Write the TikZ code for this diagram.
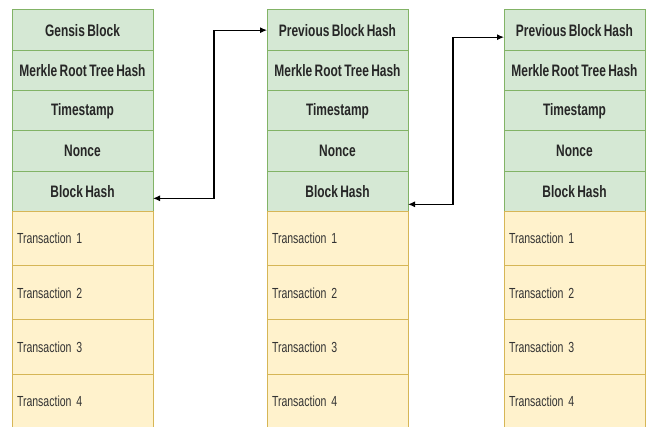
\documentclass[tikz,border=0pt]{standalone}
\usepackage{fontspec}
\newfontfamily\cellfont[FakeStretch=0.72, WordSpace=0.72]{Liberation Sans}
\usetikzlibrary{positioning}
\usetikzlibrary{arrows.meta}
\tikzset{>={Latex[length=7pt,width=6pt]}}
\definecolor{hdrfill}{HTML}{D5E8D4}
\definecolor{hdrline}{HTML}{82B366}
\definecolor{txnfill}{HTML}{FFF2CC}
\definecolor{txnline}{HTML}{D6B656}

\begin{document}
\begin{tikzpicture}[x=1pt, y=1pt,
	hdr/.style={rectangle, draw=hdrline, fill=hdrfill, line width=1pt, minimum width=141pt, minimum height=40.3pt, inner sep=0pt, outer sep=0pt, text=black!85, font=\cellfont\bfseries\fontsize{16.6}{18}\selectfont},
	txn/.style={rectangle, draw=txnline, fill=txnfill, line width=1pt, text width=131pt, inner xsep=5pt, inner ysep=0pt, minimum height=54.2pt, outer sep=0pt, align=left, text=black!80, font=\cellfont\fontsize{14.6}{16}\selectfont},
	node distance=0pt]
		\useasboundingbox (0,0) rectangle (651,-427);
		% first block
		\node[hdr, anchor=north west] (gen) at (12,-10) {Gensis Block};
		\node[hdr] (mrk1) [below=of gen] {Merkle Root Tree Hash};
		\node[hdr] (ts1) [below=of mrk1] {Timestamp};
		\node[hdr] (non1) [below=of ts1] {Nonce};
		\node[hdr] (bh1) [below=of non1] {Block Hash};
		\node[txn] (tx11) [below=of bh1] {Transaction 1};
		\node[txn] (tx12) [below=of tx11] {Transaction 2};
		\node[txn] (tx13) [below=of tx12] {Transaction 3};
		\node[txn] (tx14) [below=of tx13] {Transaction 4};
		% second block
		\node[hdr, anchor=north west] (prev2) at (267,-10) {Previous Block Hash};
		\node[hdr] (mrk2) [below=of prev2] {Merkle Root Tree Hash};
		\node[hdr] (ts2) [below=of mrk2] {Timestamp};
		\node[hdr] (non2) [below=of ts2] {Nonce};
		\node[hdr] (bh2) [below=of non2] {Block Hash};
		\node[txn] (tx21) [below=of bh2] {Transaction 1};
		\node[txn] (tx22) [below=of tx21] {Transaction 2};
		\node[txn] (tx23) [below=of tx22] {Transaction 3};
		\node[txn] (tx24) [below=of tx23] {Transaction 4};
		% third block
		\node[hdr, anchor=north west] (prev3) at (504,-10) {Previous Block Hash};
		\node[hdr] (mrk3) [below=of prev3] {Merkle Root Tree Hash};
		\node[hdr] (ts3) [below=of mrk3] {Timestamp};
		\node[hdr] (non3) [below=of ts3] {Nonce};
		\node[hdr] (bh3) [below=of non3] {Block Hash};
		\node[txn] (tx31) [below=of bh3] {Transaction 1};
		\node[txn] (tx32) [below=of tx31] {Transaction 2};
		\node[txn] (tx33) [below=of tx32] {Transaction 3};
		\node[txn] (tx34) [below=of tx33] {Transaction 4};
		% links
		\draw[<->, line width=1.1pt] ([yshift=-7pt]bh1.east) -- ++(61,0) |- (prev2.west);
		\draw[<->, line width=1.1pt] ([yshift=-13pt]bh2.east) -- ++(45,0) |- ([yshift=-7pt]prev3.west);
	\end{tikzpicture}
\end{document}
